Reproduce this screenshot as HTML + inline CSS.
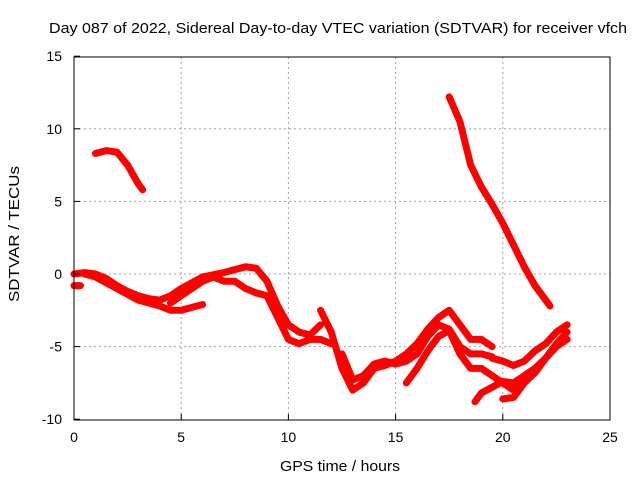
<!DOCTYPE html>
<html><head><meta charset="utf-8"><style>
body{margin:0;background:#fff}
svg{display:block;font-family:"Liberation Sans",sans-serif}
</style></head><body>
<svg width="640" height="480">
<rect width="640" height="480" fill="#fff"/>
<text x="338" y="33" font-size="15" text-anchor="middle" textLength="578" lengthAdjust="spacingAndGlyphs">Day 087 of 2022, Sidereal Day-to-day VTEC variation (SDTVAR) for receiver vfch</text>
<g id="grid"></g>
<g id="series"></g>
<rect x="74" y="57" width="536" height="363" fill="none" stroke="#000" stroke-width="1"/>
<g id="ticks"></g>
<text x="340" y="471" font-size="15" text-anchor="middle" textLength="120" lengthAdjust="spacingAndGlyphs">GPS time / hours</text>
<text transform="translate(19,234) rotate(-90)" font-size="15" text-anchor="middle" textLength="136" lengthAdjust="spacingAndGlyphs">SDTVAR / TECUs</text>
</svg>
<script>
const xTicks=[0,5,10,15,20,25];
const yTicks=[-10,-5,0,5,10,15];
const s1=[[0,0],[0.5,0.1],[1,0],[1.5,-0.3],[2,-0.8],[2.5,-1.2],[3,-1.5],[3.5,-1.7],[4,-1.8],[4.5,-1.5],[5,-1],[5.5,-0.6],[6,-0.2],[7,0.1],[7.5,0.3],[8,0.5],[8.5,0.4],[9,-0.5],[9.5,-2.2],[10,-3.5],[10.5,-4],[11,-4.2],[11.5,-3.5]];
const s2=[[0.5,0],[1,-0.2],[2,-1],[3,-1.8],[4,-2.2],[4.5,-2.5],[5,-2.5],[5.5,-2.3],[6,-2.1]];
const s3=[[4.5,-2],[5,-1.5],[5.5,-1],[6,-0.5],[6.5,-0.2],[7,-0.5],[7.5,-0.5],[8,-1],[8.5,-1.3],[9,-1.5],[9.5,-3],[10,-4.5],[10.5,-4.8],[11,-4.5],[11.5,-4.5],[12,-4.8]];
const s4=[[11.5,-2.5],[12,-4],[12.5,-6.5],[13,-8],[13.5,-7.5],[14,-6.5],[14.5,-6.3],[15,-6],[15.5,-5.5],[16,-4.8],[16.5,-3.8],[17,-3],[17.5,-2.5],[18,-3.5],[18.5,-4.5],[19,-4.5],[19.5,-5]];
const s5=[[12.5,-5.5],[13,-7.3],[13.5,-7],[14,-6.2],[14.5,-6],[15,-6.2],[15.5,-6],[16,-5.5],[16.5,-4.3],[17,-3.5],[17.5,-3.8],[18,-5],[18.5,-5.5],[19,-5.5],[19.5,-5.7]];
const s6=[[15.5,-7.5],[16,-6.5],[16.5,-5.3],[17,-4.3],[17.5,-3.9],[18,-5.5],[18.5,-6.5],[19,-6.5],[19.5,-7],[20,-7.5],[20.5,-8],[21,-7.5],[21.5,-6.5],[22,-5.8],[22.5,-4.8],[23,-4]];
const s7=[[18.7,-8.8],[19,-8.2],[19.5,-7.8],[20,-7.4],[20.5,-7.5],[21,-7],[21.5,-6.5]];
const s8=[[19.5,-5.8],[20,-6],[20.5,-6.3],[21,-6],[21.5,-5.3],[22,-4.8],[22.5,-4],[23,-3.5]];
const s9=[[20,-8.6],[20.5,-8.5],[21,-7.5],[21.5,-6.8],[22,-5.8],[22.5,-5],[23,-4.5]];
const s10=[[1,8.3],[1.5,8.5],[2,8.4],[2.5,7.5],[3,6.2],[3.2,5.8]];
const s11=[[17.5,12.2],[18,10.5],[18.5,7.5],[19,6],[19.5,4.8],[20,3.5],[20.5,2],[21,0.5],[21.5,-0.8],[22,-1.8],[22.2,-2.2]];
const s12=[[0,-0.8],[0.3,-0.8]];
const allSeries=[s1,s2,s3,s4,s5,s6,s7,s8,s9,s10,s11,s12];
const NS="http://www.w3.org/2000/svg";
const X=h=>74+h*536/25, Y=v=>274-v*363/25;
const grid=document.getElementById('grid'),ticks=document.getElementById('ticks'),ser=document.getElementById('series');
function mk(tag,a,p){const e=document.createElementNS(NS,tag);for(const k in a)e.setAttribute(k,a[k]);p.appendChild(e);return e;}
xTicks.forEach(t=>{const x=X(t);
 if(t>0&&t<25){const g=mk('line',{x1:x,x2:x,y1:57,y2:420,stroke:'#a0a0a0','stroke-dasharray':'2,3'},grid);
 
 }
 const tk=mk('line',{x1:x,x2:x,y1:420,y2:414,stroke:'#000'},ticks);
 
 
 const l=mk('text',{x:x,y:442,'font-size':14,'text-anchor':'middle'},ticks);l.textContent=t;
 
 });
yTicks.forEach(t=>{const y=Y(t);
 if(t>-10&&t<15){const g=mk('line',{x1:74,x2:610,y1:y,y2:y,stroke:'#a0a0a0','stroke-dasharray':'2,3'},grid);
 
 }
 const tk=mk('line',{x1:74,x2:80,y1:y,y2:y,stroke:'#000'},ticks);
 
 
 const l=mk('text',{x:62,y:y+5,'font-size':14,'text-anchor':'end'},ticks);l.textContent=t;
 
 });
allSeries.forEach((s,i)=>{const p=mk('polyline',{points:s.map(d=>X(d[0])+','+Y(d[1])).join(' '),fill:'none',stroke:'#ff0000','stroke-width':7,'stroke-linejoin':'round','stroke-linecap':'round'},ser);
 
 });
</script>
</body></html>
